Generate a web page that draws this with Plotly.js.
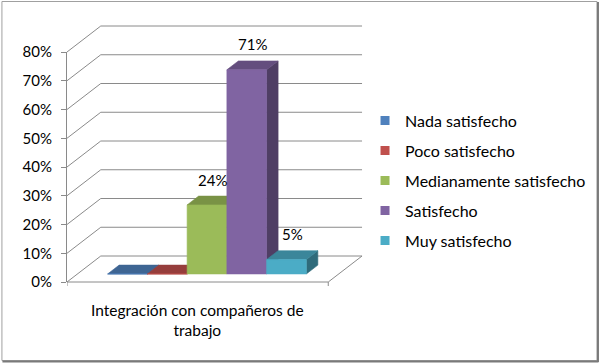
<!DOCTYPE html>
<html><head><meta charset="utf-8">
<script src="https://cdn.plot.ly/plotly-3.0.1.min.js"></script>
<style>html,body{margin:0;padding:0;background:#fff}</style>
</head><body>
<div id="chart" style="width:603px;height:363px"></div>
<script>
// ---- data ----
const category = 'Integración con compañeros de<br>trabajo';
const seriesNames = ['Nada satisfecho', 'Poco satisfecho', 'Medianamente satisfecho', 'Satisfecho', 'Muy satisfecho'];
const seriesValues = [0, 0, 24, 71, 5];
const seriesColors = ['#4F81BD', '#C0504D', '#9BBB59', '#8064A2', '#4BACC6'];
const yTicks = [0, 10, 20, 30, 40, 50, 60, 70, 80];
const yTickText = ['0%', '10%', '20%', '30%', '40%', '50%', '60%', '70%', '80%'];

// ---- layout / 3D projection constants ----
const FONT = 'Lato, "Open Sans", sans-serif';
const GRID = '#8a8a8a';
const PL = 67, PR = 370, PT = 20, PB = 292;   // plot area in pixels
const PXU = 40, PXV = 2.875, V0PX = 282;      // px per category unit, px per %, px of 0%
const W = 6.575, DX = 0.85, DY = 9.04;        // floor width, depth offsets
const Z0 = 0.31, Z1 = 0.65, BAR0 = 0.76, BARW = 1;
const proj = (u, v, z) => [u + z * DX, v + z * DY];
const px2u = p => (p - PL) / PXU;
const px2v = p => (V0PX - p) / PXV;
const paperX = p => (p - PL) / (PR - PL);
const paperY = p => (PB - p) / (PB - PT);

function shade(hex, f) {
  const n = parseInt(hex.slice(1), 16);
  const r = Math.round(((n >> 16) & 255) * f), g = Math.round(((n >> 8) & 255) * f), b = Math.round((n & 255) * f);
  return `rgb(${r},${g},${b})`;
}
function poly(pts, color) {
  const xs = pts.map(p => p[0]), ys = pts.map(p => p[1]);
  xs.push(xs[0]); ys.push(ys[0]);
  return {type: 'scatter', mode: 'lines', x: xs, y: ys, fill: 'toself', fillcolor: color,
          line: {color: color, width: 0.6}, hoverinfo: 'skip', showlegend: false};
}

const traces = [];
// walls and floor
const gx = [], gy = [];
function seg(a, b) { gx.push(a[0], b[0], null); gy.push(a[1], b[1], null); }
yTicks.forEach(t => {
  seg(proj(0, t, 1), proj(W, t, 1));
  seg(proj(0, t, 0), proj(0, t, 1));
});
seg(proj(0, 0, 0), proj(W, 0, 0));
seg(proj(W, 0, 0), proj(W, 0, 1));
seg(proj(0, 0, 0), proj(0, -1.4, 0));
seg(proj(W, 0, 0), proj(W, -1.4, 0));
traces.push({type: 'scatter', mode: 'lines', x: gx, y: gy, line: {color: GRID, width: 1},
             hoverinfo: 'skip', showlegend: false});

// bars
const annotations = [];
seriesValues.forEach((h, i) => {
  const a = BAR0 + i * BARW, b = a + BARW, c = seriesColors[i];
  traces.push(poly([proj(b, 0, Z0), proj(b, 0, Z1), proj(b, h, Z1), proj(b, h, Z0)], shade(c, 0.62)));
  traces.push(poly([proj(a, h, Z0), proj(b, h, Z0), proj(b, h, Z1), proj(a, h, Z1)], shade(c, 0.78)));
  traces.push(poly([proj(a, 0, Z0), proj(b, 0, Z0), proj(b, h, Z0), proj(a, h, Z0)], c));
  if (h > 0) {
    const p = proj(a + BARW / 2, h, (Z0 + Z1) / 2);
    annotations.push({x: p[0], y: p[1], xref: 'x', yref: 'y', text: h + '%', showarrow: false,
                      yanchor: 'bottom', yshift: 10, font: {family: FONT, size: 15, color: '#000'}});
  }
});

// legend entries
seriesNames.forEach((n, i) => {
  traces.push({type: 'scatter', mode: 'markers', x: [-10], y: [-10], name: n, legendgroup: 'g' + i,
               marker: {symbol: 'square', size: 9, color: seriesColors[i]}, hoverinfo: 'skip'});
});
// y-axis carrier
traces.push({type: 'scatter', mode: 'markers', x: [null], y: [null], xaxis: 'x', yaxis: 'y2',
             showlegend: false, hoverinfo: 'skip'});

// category label
annotations.push({x: W / 2, y: paperY(320), xref: 'x', yref: 'paper', text: category, showarrow: false,
                  yanchor: 'middle', align: 'center', font: {family: FONT, size: 15.5, color: '#000'}});

const shapes = [
  {type: 'rect', xref: 'paper', yref: 'paper', x0: paperX(1.5), x1: paperX(600.5), y0: paperY(1.5), y1: paperY(360.5),
   line: {color: '#a0a0a0', width: 1}},
  {type: 'line', xref: 'paper', yref: 'paper', x0: paperX(601.5), x1: paperX(601.5), y0: paperY(2), y1: paperY(362),
   line: {color: '#7a7a7a', width: 2}},
  {type: 'line', xref: 'paper', yref: 'paper', x0: paperX(2), x1: paperX(602), y0: paperY(361.5), y1: paperY(361.5),
   line: {color: '#7a7a7a', width: 2}}
];

const layout = {
  width: 603, height: 363,
  margin: {l: PL, r: 603 - PR, t: PT, b: 363 - PB, pad: 0},
  paper_bgcolor: '#fff', plot_bgcolor: 'rgba(0,0,0,0)',
  showlegend: true,
  xaxis: {range: [px2u(PL), px2u(PR)], visible: false, fixedrange: true},
  yaxis: {range: [px2v(PB), px2v(PT)], visible: false, fixedrange: true},
  yaxis2: {domain: [paperY(V0PX), paperY(V0PX - 80 * PXV)], range: [0, 80], anchor: 'x',
           showgrid: false, zeroline: false, showline: true, linecolor: GRID, linewidth: 1,
           ticks: 'outside', ticklen: 5, tickcolor: GRID, tickvals: yTicks, ticktext: yTickText,
           ticklabelstandoff: 6, tickfont: {family: FONT, size: 15, color: '#000'}, fixedrange: true},
  legend: {x: paperX(367), xanchor: 'left', y: paperY(180.7), yanchor: 'middle', tracegroupgap: 6.2,
           font: {family: FONT, size: 16, color: '#000'}, bgcolor: 'rgba(0,0,0,0)', borderwidth: 0},
  annotations: annotations,
  shapes: shapes
};

Plotly.newPlot('chart', traces, layout, {displayModeBar: false, staticPlot: true});
</script>
</body></html>
